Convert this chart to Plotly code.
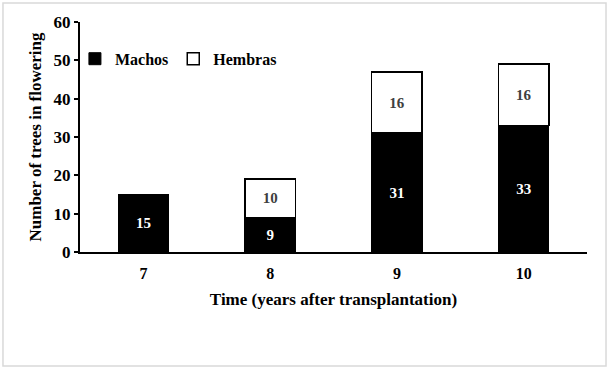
import plotly.graph_objects as go

categories = ["7", "8", "9", "10"]
machos = [15, 9, 31, 33]
hembras = [None, 10, 16, 16]
y_ticks = [0, 10, 20, 30, 40, 50, 60]

FONT = "Times New Roman"

fig = go.Figure()
fig.add_trace(go.Bar(
    x=categories, y=machos, name="Machos",
    marker=dict(color="black", line=dict(color="black", width=1)),
    text=[str(v) for v in machos], textposition="inside", insidetextanchor="middle",
    constraintext="none",
    textfont=dict(family=FONT, size=15, color="white", weight="bold"),
    width=0.4,
))
fig.add_trace(go.Bar(
    x=categories, y=hembras, name="Hembras",
    marker=dict(color="white", line=dict(color="black", width=1.5)),
    text=["" if v is None else str(v) for v in hembras], textposition="inside",
    insidetextanchor="middle", constraintext="none",
    textfont=dict(family=FONT, size=15, color="#404040", weight="bold"),
    width=0.4,
))

fig.update_layout(
    barmode="stack",
    width=610, height=370,
    margin=dict(l=80, r=23, t=22, b=118),
    paper_bgcolor="white", plot_bgcolor="white",
    font=dict(family=FONT, size=15, color="black", weight="bold"),
    showlegend=True,
    legend=dict(orientation="h", traceorder="normal", x=-0.01, y=0.84,
                xanchor="left", yanchor="middle",
                font=dict(family=FONT, size=16, color="black", weight="bold"),
                bgcolor="rgba(0,0,0,0)", tracegroupgap=0),
    xaxis=dict(
        showline=True, linecolor="black", linewidth=2,
        ticks="", showgrid=False, zeroline=False, ticklabelstandoff=6,
        tickfont=dict(family=FONT, size=16, color="black", weight="bold"),
        title=dict(text="Time (years after transplantation)", standoff=12,
                   font=dict(family=FONT, size=17, color="black", weight="bold")),
    ),
    yaxis=dict(
        range=[0, 60], tickvals=y_ticks,
        showline=True, linecolor="black", linewidth=2,
        ticks="outside", ticklen=4, tickwidth=2, tickcolor="black",
        showgrid=False, zeroline=False,
        tickfont=dict(family=FONT, size=17, color="black", weight="bold"),
        title=dict(text="Number of trees in flowering", standoff=8,
                   font=dict(family=FONT, size=17, color="black", weight="bold")),
    ),
)

fig.add_shape(type="rect", xref="paper", yref="paper",
              x0=-0.1519, x1=1.0375, y0=-0.4957, y1=1.0826,
              line=dict(color="#d9d9d9", width=1.5), fillcolor="rgba(0,0,0,0)", layer="below")

fig.write_html("out.html", config={"displayModeBar": False},
               post_script="document.body.style.margin='0';")
